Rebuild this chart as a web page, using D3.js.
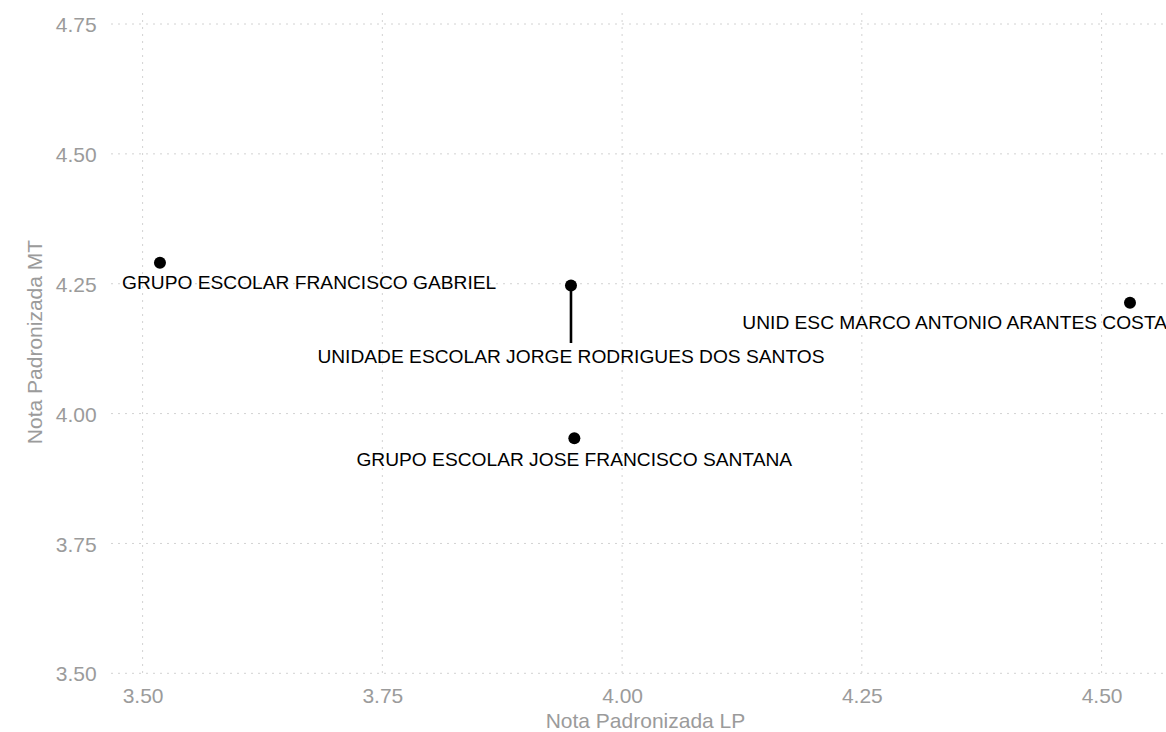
<!DOCTYPE html>
<html>
<head>
<meta charset="utf-8">
<script src="https://cdn.jsdelivr.net/npm/d3@7"></script>
<style>
  html, body { margin: 0; padding: 0; background: #ffffff; }
  svg { display: block; }
</style>
</head>
<body>
<svg id="chart" width="1166" height="732"></svg>
<script>
// ---- data ----
const schools = [
  "GRUPO ESCOLAR FRANCISCO GABRIEL",
  "UNIDADE ESCOLAR JORGE RODRIGUES DOS SANTOS",
  "GRUPO ESCOLAR JOSE FRANCISCO SANTANA",
  "UNID ESC MARCO ANTONIO ARANTES COSTA"
];
const notaLP = [3.5181, 3.9467, 3.9502, 4.5296];
const notaMT = [4.2905, 4.2466, 3.9524, 4.2135];
// repelled label positions (data units)
const labelLP = [3.6737, 3.9467, 3.9501, 4.3468];
const labelMT = [4.2523, 4.1108, 3.9122, 4.1753];
const xTicks = [3.50, 3.75, 4.00, 4.25, 4.50];
const yTicks = [3.50, 3.75, 4.00, 4.25, 4.50, 4.75];
const xTitle = "Nota Padronizada LP";
const yTitle = "Nota Padronizada MT";

// ---- layout ----
const W = 1166, H = 732;
const panel = { left: 111, top: 13, right: 1166, bottom: 673.3 };
const x = d3.scaleLinear().domain([3.5, 4.5]).range([142.6, 1101.6]);
const y = d3.scaleLinear().domain([3.5, 4.75]).range([673.3, 24]);

const svg = d3.select("#chart");
const FONT = "'Liberation Sans', Arial, Helvetica, sans-serif";
const gray = "#9b9b9b";
const gridColor = "#d2d2d2";

svg.append("defs").append("clipPath").attr("id", "clip")
  .append("rect").attr("x", panel.left).attr("y", panel.top)
  .attr("width", panel.right - panel.left).attr("height", panel.bottom - panel.top);

// grid
const grid = svg.append("g");
grid.selectAll("line.h").data(yTicks).join("line")
  .attr("x1", panel.left).attr("x2", panel.right)
  .attr("y1", d => y(d)).attr("y2", d => y(d))
  .attr("stroke", gridColor).attr("stroke-width", 1).attr("stroke-dasharray", "2,5");
grid.selectAll("line.v").data(xTicks).join("line")
  .attr("y1", panel.top).attr("y2", panel.bottom)
  .attr("x1", d => x(d)).attr("x2", d => x(d))
  .attr("stroke", gridColor).attr("stroke-width", 1).attr("stroke-dasharray", "2,5");

// axes (d3 axes, styled minimal)
const xAxis = svg.append("g").attr("transform", `translate(0,${panel.bottom})`)
  .call(d3.axisBottom(x).tickValues(xTicks).tickFormat(d3.format(".2f")).tickSize(0).tickPadding(0));
xAxis.select(".domain").remove();
xAxis.selectAll("text").attr("font-family", FONT).attr("font-size", 21)
  .attr("fill", gray).attr("y", 29.4).attr("dy", null);

const yAxis = svg.append("g").attr("transform", `translate(${panel.left},0)`)
  .call(d3.axisLeft(y).tickValues(yTicks).tickFormat(d3.format(".2f")).tickSize(0).tickPadding(0));
yAxis.select(".domain").remove();
yAxis.selectAll("text").attr("font-family", FONT).attr("font-size", 21)
  .attr("fill", gray).attr("x", -14.3).attr("dy", "0.36em");

// axis titles
svg.append("text").attr("x", (panel.left + panel.right) / 2 + 7).attr("y", 727.5)
  .attr("text-anchor", "middle").attr("font-family", FONT).attr("font-size", 21)
  .attr("fill", gray).text(xTitle);
svg.append("text").attr("transform", `translate(41.5,342) rotate(-90)`)
  .attr("text-anchor", "middle").attr("font-family", FONT).attr("font-size", 21)
  .attr("fill", gray).text(yTitle);

// marks
const data = schools.map((s, i) => ({ s, px: notaLP[i], py: notaMT[i], lx: labelLP[i], ly: labelMT[i] }));
const plot = svg.append("g").attr("clip-path", "url(#clip)");

const labels = plot.selectAll("text.lab").data(data).join("text")
  .attr("class", "lab")
  .attr("x", d => x(d.lx)).attr("y", d => y(d.ly)).attr("dy", "0.36em")
  .attr("text-anchor", "middle").attr("font-family", FONT).attr("font-size", 19.2)
  .attr("fill", "#000").text(d => d.s);

// segments (ggrepel-like) when label box is far from its point
labels.each(function (d) {
  const w = this.getComputedTextLength();
  const cx = x(d.lx), cy = y(d.ly);
  const bx0 = cx - w / 2, bx1 = cx + w / 2, by0 = cy - 13, by1 = cy + 13;
  const px = x(d.px), py = y(d.py);
  const nx = Math.max(bx0, Math.min(px, bx1));
  const ny = Math.max(by0, Math.min(py, by1));
  const dist = Math.hypot(nx - px, ny - py);
  if (dist > 15) {
    plot.insert("line", "text").attr("x1", px).attr("y1", py).attr("x2", nx).attr("y2", ny)
      .attr("stroke", "#000").attr("stroke-width", 2.6);
  }
});

plot.selectAll("circle").data(data).join("circle")
  .attr("cx", d => x(d.px)).attr("cy", d => y(d.py)).attr("r", 6)
  .attr("fill", "#000");
</script>
</body>
</html>
